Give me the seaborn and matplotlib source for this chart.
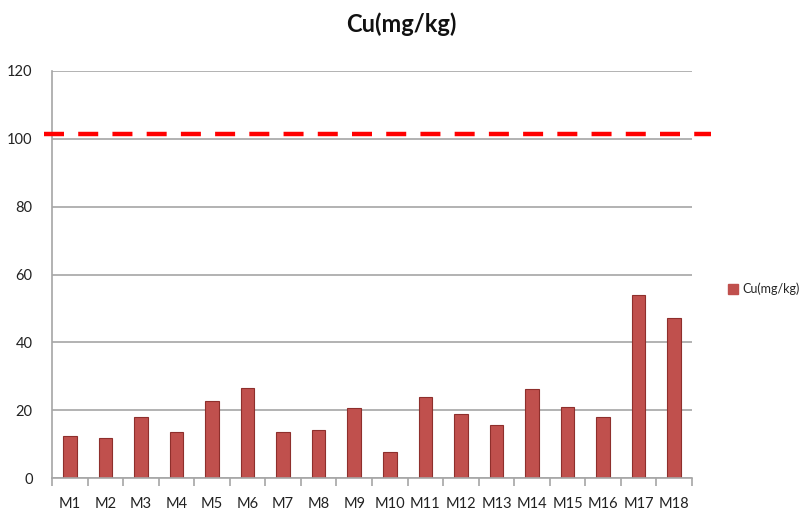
import matplotlib
matplotlib.use("Agg")
import matplotlib.pyplot as plt
import seaborn as sns
import pandas as pd
import numpy as np
from matplotlib.patches import Patch

categories = ["M1", "M2", "M3", "M4", "M5", "M6", "M7", "M8", "M9", "M10",
              "M11", "M12", "M13", "M14", "M15", "M16", "M17", "M18"]
cu_values = [12.5, 11.8, 18.0, 13.7, 22.7, 26.5, 13.6, 14.1, 20.7, 7.7,
             23.9, 18.8, 15.5, 26.2, 21.0, 18.0, 53.9, 47.3]
limit_value = 101.5
y_ticks = [0, 20, 40, 60, 80, 100, 120]
series_name = "Cu(mg/kg)"

sns.set_theme(style="white")
plt.rcParams["font.family"] = ["Lato", "DejaVu Sans"]

df = pd.DataFrame({"sample": categories, "value": cu_values})

fig = plt.figure(figsize=(8.03, 5.12), dpi=100)
ax = fig.add_axes([52 / 803, (512 - 478) / 512, 640 / 803, 407 / 512])

sns.barplot(data=df, x="sample", y="value", color="#C0504D", width=0.38,
            saturation=1, edgecolor="#8E2F2C", linewidth=0.8, ax=ax)

ax.set_ylim(0, 120)
ax.set_xlim(-0.5, len(categories) - 0.5)
ax.set_yticks(y_ticks)
ax.set_yticklabels([str(t) for t in y_ticks], fontsize=10.5, color="#222222")
ax.set_xticks(np.arange(-0.5, len(categories), 1.0), minor=True)
ax.tick_params(axis="x", which="major", labelsize=10.5, colors="#222222",
               pad=14, length=0)
ax.tick_params(axis="x", which="minor", length=6, width=1.2, color="#A6A6A6",
               direction="out", bottom=True)
ax.tick_params(axis="y", length=0, pad=14)
ax.set_xlabel("")
ax.set_ylabel("")

for t in y_ticks:
    ax.axhline(t, color="#A6A6A6", lw=1.2, zorder=0)

for s in ["top", "right"]:
    ax.spines[s].set_visible(False)
ax.spines["left"].set_color("#A6A6A6")
ax.spines["left"].set_linewidth(1.2)
ax.spines["bottom"].set_color("#A6A6A6")
ax.spines["bottom"].set_linewidth(1.2)

ax.axhline(limit_value, xmin=-0.012, xmax=1.03, color="#FF0000", lw=3.2,
           ls=(0, (4.5, 3.2)), clip_on=False, zorder=5)

fig.suptitle(series_name, x=0.5, y=0.975, fontsize=17, fontweight="bold",
             color="#111111")

handles = [Patch(facecolor="#C0504D", edgecolor="#C0504D", label=series_name)]
fig.legend(handles=handles, loc="center left", bbox_to_anchor=(717 / 803, 1 - 289 / 512),
           frameon=False, fontsize=9, handlelength=0.8, handleheight=0.8,
           handletextpad=0.3)

fig.savefig("out.png", dpi=100)
